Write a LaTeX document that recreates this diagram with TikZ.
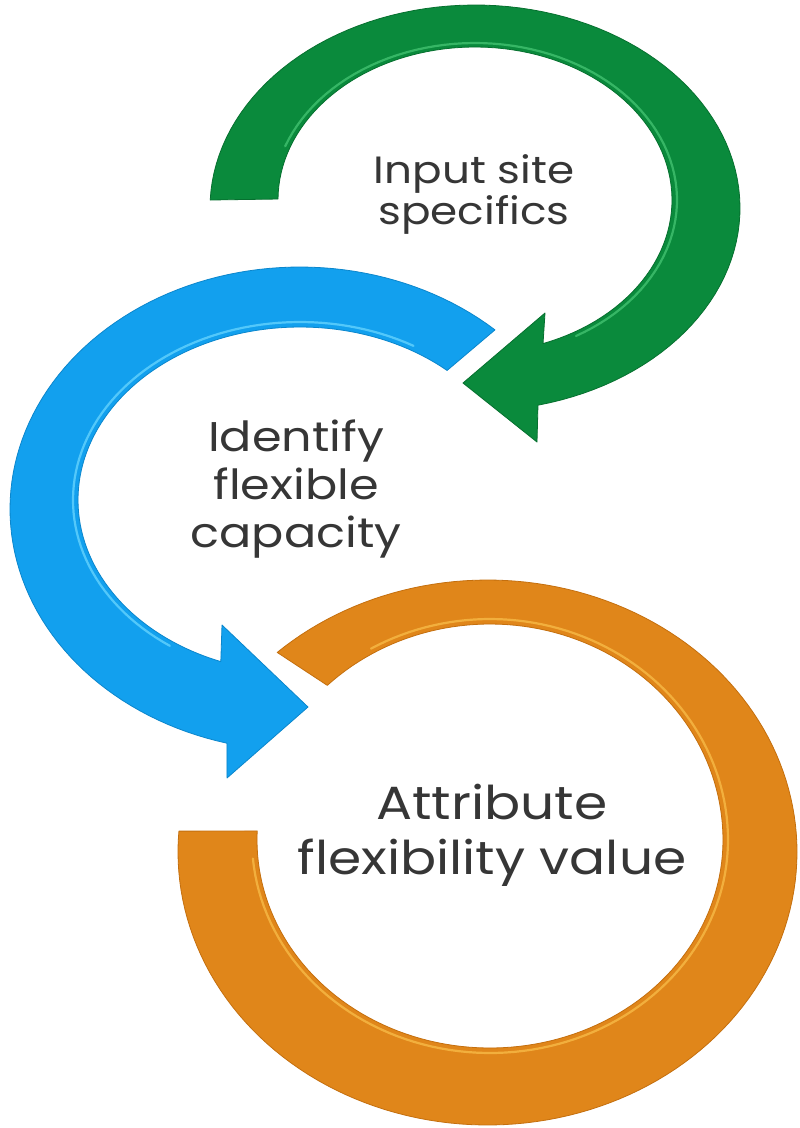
\documentclass[tikz,border=0pt]{standalone}
\usepackage{fontspec}
\setmainfont{Poppins}
\newfontfamily\widefont{Poppins}[FakeStretch=1.15]
\definecolor{gmain}{HTML}{0A8A3C}
\definecolor{gdark}{HTML}{06702F}
\definecolor{glite}{HTML}{45C574}
\definecolor{bmain}{HTML}{12A0EE}
\definecolor{bdark}{HTML}{0B86CC}
\definecolor{blite}{HTML}{6AD6FF}
\definecolor{omain}{HTML}{E0861A}
\definecolor{odark}{HTML}{C46F0E}
\definecolor{olite}{HTML}{F9BE4A}
\definecolor{txt}{HTML}{363636}
\tikzset{
  band/.style={line width=0.8pt, line join=round},
  shine/.style={line width=2.2pt, line cap=round, opacity=0.75},
  lbl/.style={text=txt, align=center, inner sep=0pt}
}
\begin{document}
\begin{tikzpicture}[x=1pt,y=-1pt]
\useasboundingbox (0,0) rectangle (800,1128);
\fill[white] (0,0) rectangle (800,1128);

% ---------- green arrow ----------
\filldraw[band, fill=gmain, draw=gdark]
  plot[domain=182.26:436.25,samples=100] ({475+265*cos(\x)},{208+203*sin(\x)})
  -- (537,442) -- (463,383) -- (545,313)
  -- plot[domain=0:1,samples=100] ({475+197*cos(429.8-249.8*\x)},{200+153*sin(429.8-249.8*\x)})
  -- cycle;
\draw[shine, glite]
  plot[domain=200:420,samples=80] ({475+202*cos(\x)},{200+157*sin(\x)});

% ---------- blue arrow ----------
\filldraw[band, fill=bmain, draw=bdark]
  plot[domain=104.6:312.25,samples=100] ({300+290*cos(\x)},{509+242*sin(\x)})
  -- plot[domain=0:1,samples=100] ({300+222*cos(311.5-200.9*\x)},{500+173*sin(311.5-200.9*\x)})
  -- (222,625) -- (308,707) -- (227,778) -- cycle;
\draw[shine, blite]
  plot[domain=125:300,samples=80] ({300+227*cos(\x)},{500+178*sin(\x)});

% ---------- orange ring ----------
\filldraw[band, fill=omain, draw=odark]
  plot[domain=227.2:360,samples=70] ({487.5+309.5*cos(\x)},{852+272*sin(\x)})
  -- plot[domain=360:540,samples=90] ({487.5+309.5*cos(\x)},{852+273*sin(\x)})
  -- plot[domain=540:544.4,samples=5] ({487.5+309.5*cos(\x)},{852+272*sin(\x)})
  -- plot[domain=0:1,samples=5] ({490+233*cos(542.4-2.4*\x)},{840+216*sin(542.4-2.4*\x)})
  -- plot[domain=0:1,samples=90] ({490+233*cos(540-180*\x)},{840+208*sin(540-180*\x)})
  -- plot[domain=0:1,samples=70] ({490+233*cos(360-134.4*\x)},{840+216*sin(360-134.4*\x)})
  -- cycle;
\draw[shine, olite]
  plot[domain=240:360,samples=60] ({490+238*cos(\x)},{840+221*sin(\x)})
  -- plot[domain=0:175,samples=80] ({490+238*cos(\x)},{840+213*sin(\x)});

% ---------- labels ----------
\node[lbl, font=\widefont\fontsize{38}{41}\selectfont] (t1) at (474,194) {Input site\\specifics};
\node[lbl, font=\widefont\fontsize{41.5}{48}\selectfont] (t2) at (296,489) {Identify\\flexible\\capacity};
\node[lbl, font=\widefont\fontsize{46.5}{55}\selectfont] (t3) at (492,835) {Attribute\\flexibility value};
\end{tikzpicture}
\end{document}
